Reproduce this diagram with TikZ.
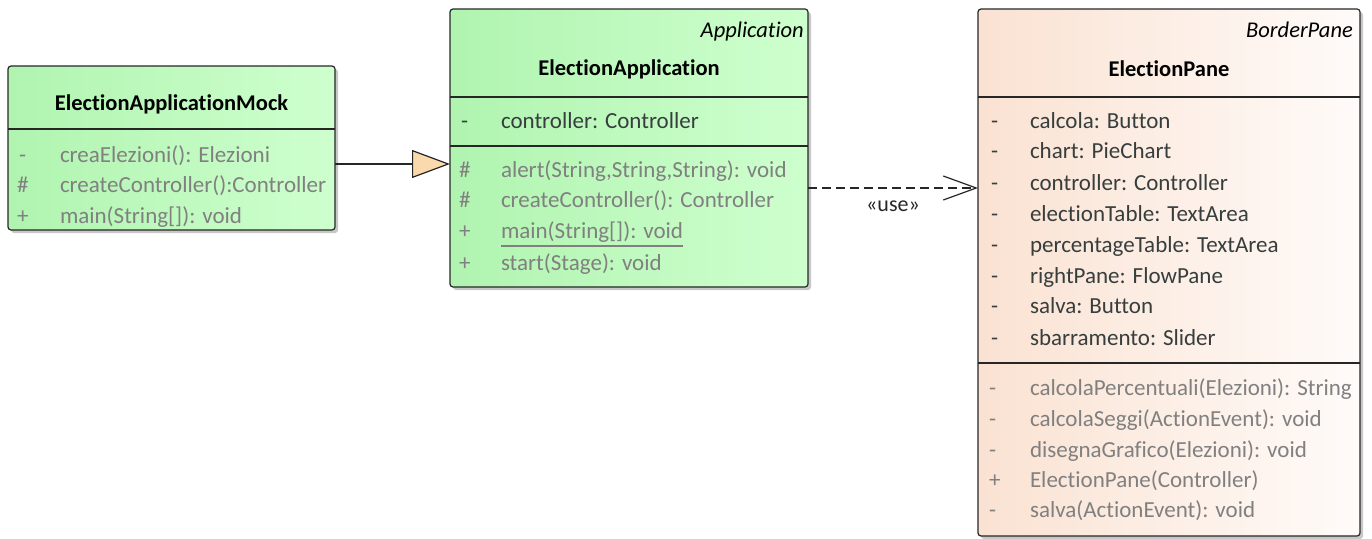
\documentclass[tikz,border=0pt]{standalone}
\usepackage{fontspec}
\setmainfont{Carlito}[Ligatures={NoCommon}]
\usetikzlibrary{shadows,arrows.meta}

\definecolor{greenL}{RGB}{176,244,176}
\definecolor{greenR}{RGB}{206,255,206}
\definecolor{peachL}{RGB}{250,226,210}
\definecolor{peachR}{RGB}{255,251,249}
\definecolor{tipfill}{RGB}{250,218,172}
\definecolor{opgray}{RGB}{128,128,128}
\definecolor{attrdark}{RGB}{55,62,62}

\begin{document}
\begin{tikzpicture}[x=1pt,y=-1pt,
  font=\fontsize{23}{27}\selectfont,
  classbox/.style={draw=black!85, line width=1.2pt, rounded corners=3pt,
    anchor=north west, inner sep=0pt, outer sep=0pt,
    drop shadow={shadow xshift=3pt, shadow yshift=-3pt, opacity=0.22, fill=black}},
  greenbox/.style={left color=greenL, right color=greenR},
  peachbox/.style={left color=peachL, right color=peachR},
  sep/.style={draw=black!85, line width=1.2pt},
  txt/.style={anchor=base west, inner sep=0pt, outer sep=0pt},
  cname/.style={anchor=base, inner sep=0pt, font=\fontsize{22.5}{27}\selectfont\bfseries},
  stereo/.style={anchor=base east, inner sep=0pt, font=\fontsize{22.5}{27}\selectfont\itshape},
  attr/.style={txt, text=attrdark},
  oper/.style={txt, text=opgray},
  genline/.style={draw=black!85, line width=1.2pt,
    -{Triangle[length=38pt, width=28pt, fill=tipfill]}},
  depline/.style={draw=black!85, line width=1.2pt, dash pattern=on 9pt off 5pt,
    -{Straight Barb[length=33pt, width=24pt, line width=1.2pt]}}
]
\useasboundingbox (0,0) rectangle (1372,538);

% ---------- ElectionApplicationMock ----------
\node[classbox, greenbox, minimum width=327pt, minimum height=164pt] (mock) at (8,66) {};
\draw[sep] (8,129) -- (335,129);
\node[cname] (mockname) at (171.5,110) {ElectionApplicationMock};
\node[oper] (mocks1) at (19,162) {-};
\node[oper] (mocko1) at (60,162) {creaElezioni(): Elezioni};
\node[oper] (mocks2) at (17,192) {\#};
\node[oper] (mocko2) at (60,192) {createController():Controller};
\node[oper] (mocks3) at (17,223) {+};
\node[oper] (mocko3) at (60,223) {main(String[]): void};

% ---------- ElectionApplication ----------
\node[classbox, greenbox, minimum width=358pt, minimum height=278pt] (app) at (450,9) {};
\node[stereo] (appst) at (804,37) {Application};
\node[cname] (appname) at (629,75) {ElectionApplication};
\draw[sep] (450,97) -- (808,97);
\node[attr] (apps1) at (461,128) {-};
\node[attr] (appa1) at (501,128) {controller: Controller};
\draw[sep] (450,146) -- (808,146);
\node[oper] (apps2) at (459,177) {\#};
\node[oper] (appo1) at (501,177) {alert(String,String,String): void};
\node[oper] (apps3) at (459,207) {\#};
\node[oper] (appo2) at (501,207) {createController(): Controller};
\node[oper] (apps4) at (459,238) {+};
\node[oper] (appo3) at (501,238) {main(String[]): void};
\draw[opgray, line width=1.2pt] ([yshift=-8pt]appo3.base west) -- ([yshift=-8pt]appo3.base east);
\node[oper] (apps5) at (459,270) {+};
\node[oper] (appo4) at (501,270) {start(Stage): void};

% ---------- ElectionPane ----------
\node[classbox, peachbox, minimum width=382pt, minimum height=527pt] (pane) at (978,9) {};
\node[stereo] (panest) at (1353,37) {BorderPane};
\node[cname] (panename) at (1169,76) {ElectionPane};
\draw[sep] (978,97) -- (1360,97);
\foreach \y/\t [count=\i] in {
  128/{calcola: Button},
  158/{chart: PieChart},
  190/{controller: Controller},
  221/{electionTable: TextArea},
  252/{percentageTable: TextArea},
  283/{rightPane: FlowPane},
  313/{salva: Button},
  345/{sbarramento: Slider}} {
  \node[attr] (panes\i) at (991,\y) {-};
  \node[attr] (panea\i) at (1030,\y) {\t};
}
\draw[sep] (978,363) -- (1360,363);
\foreach \y/\s/\t [count=\i] in {
  395/-/{calcolaPercentuali(Elezioni): String},
  426/-/{calcolaSeggi(ActionEvent): void},
  457/-/{disegnaGrafico(Elezioni): void},
  487/+/{ElectionPane(Controller)},
  517/-/{salva(ActionEvent): void}} {
  \node[oper] (paneos\i) at (989,\y) {\s};
  \node[oper] (paneo\i) at (1030,\y) {\t};
}

% ---------- Connectors ----------
\draw[genline] ([yshift=-16pt]mock.east) -- ([yshift=-16pt]app.west);
\draw[depline] ([yshift=-40pt]app.east) -- ([yshift=84.5pt]pane.west)
  node[midway, below=12pt, inner sep=0pt, text=black!85, font=\fontsize{22}{26}\selectfont] (uselbl) {«use»};
\end{tikzpicture}
\end{document}
